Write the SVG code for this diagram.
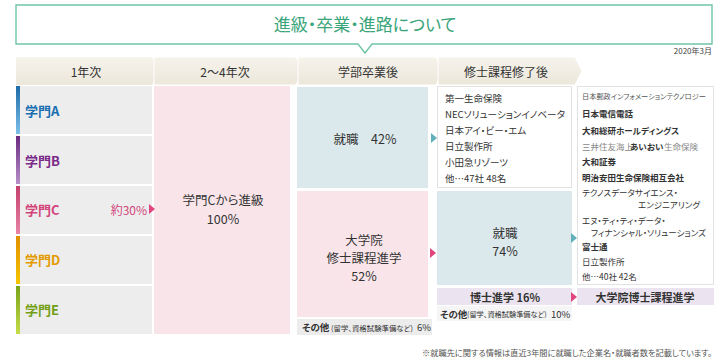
<svg xmlns="http://www.w3.org/2000/svg" width="724" height="360" viewBox="0 0 724 360">
<style>
text{font-family:"Noto Sans CJK JP","Noto Sans",sans-serif;fill:#333;font-feature-settings:"palt"}
.hd{font-size:12px;text-anchor:middle;dominant-baseline:central}
.lb{font-size:13px;font-weight:700;dominant-baseline:central}
.c{text-anchor:middle;dominant-baseline:central}
.m{font-size:12.5px}
.s{font-size:11px;font-weight:700}
.l4{font-size:9.5px;dominant-baseline:central}
.l5{font-size:8.5px;dominant-baseline:central}
.b{font-weight:700}
.pk{fill:#e0457f}
.tl{fill:#62b1ba}
</style>
<defs>
<linearGradient id="hg" x1="0" y1="0" x2="0" y2="1"><stop offset="0" stop-color="#f6f3ec"/><stop offset="1" stop-color="#ece7da"/></linearGradient>
<linearGradient id="gA" x1="0" y1="0" x2="0" y2="1"><stop offset="0" stop-color="#1c6aa8"/><stop offset="1" stop-color="#7dc0ea"/></linearGradient>
<linearGradient id="gB" x1="0" y1="0" x2="0" y2="1"><stop offset="0" stop-color="#6a2a80"/><stop offset="1" stop-color="#b690c8"/></linearGradient>
<linearGradient id="gC" x1="0" y1="0" x2="0" y2="1"><stop offset="0" stop-color="#c43f6c"/><stop offset="1" stop-color="#e884a6"/></linearGradient>
<linearGradient id="gD" x1="0" y1="0" x2="0" y2="1"><stop offset="0" stop-color="#e08e00"/><stop offset="1" stop-color="#f7c600"/></linearGradient>
<linearGradient id="gE" x1="0" y1="0" x2="0" y2="1"><stop offset="0" stop-color="#7aa31a"/><stop offset="1" stop-color="#c4dc48"/></linearGradient>
</defs>
<rect width="724" height="360" fill="#fff"/>

<g id="title">
<path d="M16,5 H712 V44 H372 L365,53 L358,44 H16 Z" fill="#fff" stroke="#72c5a5" stroke-width="1.4"/>
<text x="365" y="23" text-anchor="middle" dominant-baseline="central" style="fill:#3aa57a;font-size:17px">進級・卒業・進路について</text>
<text x="712" y="50" text-anchor="end" dominant-baseline="central" style="fill:#444;font-size:8px">2020年3月</text>
</g>

<g id="headers">
<path d="M16,57 H152 L160,71 L152,85 H16 Z" fill="url(#hg)"/>
<path d="M154,57 H296 L303,71 L296,85 H154 Z" fill="url(#hg)" stroke="#fff" stroke-width="1"/>
<path d="M298,57 H436 L443,71 L436,85 H298 Z" fill="url(#hg)" stroke="#fff" stroke-width="1"/>
<path d="M438,57 H575 L582,71 L575,85 H438 Z" fill="url(#hg)" stroke="#fff" stroke-width="1"/>
<text class="hd" x="86" y="71">1年次</text>
<text class="hd" x="225" y="71">2～4年次</text>
<text class="hd" x="368" y="71">学部卒業後</text>
<text class="hd" x="506" y="71">修士課程修了後</text>
</g>

<g id="gakumonA">
<rect x="16" y="86" width="136" height="48" fill="#ededed"/>
<rect x="16" y="86" width="4" height="48" fill="url(#gA)"/>
<text class="lb" x="25" y="110" style="fill:#1a6fb2">学門A</text>
</g>
<g id="gakumonB">
<rect x="16" y="136" width="136" height="48" fill="#ededed"/>
<rect x="16" y="136" width="4" height="48" fill="url(#gB)"/>
<text class="lb" x="25" y="160" style="fill:#7a2a88">学門B</text>
</g>
<g id="gakumonC">
<rect x="16" y="186" width="136" height="48" fill="#ededed"/>
<rect x="16" y="186" width="4" height="48" fill="url(#gC)"/>
<text class="lb" x="25" y="209" style="fill:#d3457a">学門C</text>
<text x="147" y="209" text-anchor="end" dominant-baseline="central" style="fill:#d3457a;font-size:12px">約30%</text>
</g>
<g id="gakumonD">
<rect x="16" y="236" width="136" height="48" fill="#ededed"/>
<rect x="16" y="236" width="4" height="48" fill="url(#gD)"/>
<text class="lb" x="25" y="259" style="fill:#e39a00">学門D</text>
</g>
<g id="gakumonE">
<rect x="16" y="286" width="136" height="48" fill="#ededed"/>
<rect x="16" y="286" width="4" height="48" fill="url(#gE)"/>
<text class="lb" x="25" y="309" style="fill:#74a018">学門E</text>
</g>

<g id="shinkyu">
<rect x="154" y="86" width="136" height="248" fill="#f9e5e9"/>
<text class="c m" x="223" y="199">学門Cから進級</text>
<text class="c m" x="223" y="218">100%</text>
</g>

<g id="shushoku1">
<rect x="297" y="87" width="131" height="101" fill="#dce9ec"/>
<text class="c m" x="365" y="138">就職　42%</text>
</g>
<g id="shingaku1">
<rect x="297" y="191" width="131" height="126" fill="#f9e5e9"/>
<text class="c m" x="364" y="239">大学院</text>
<text class="c m" x="364" y="257">修士課程進学</text>
<text class="c m" x="364" y="275">52%</text>
</g>
<g id="sonota1">
<rect x="297" y="319" width="135" height="16" fill="#ececec"/>
<text dominant-baseline="central" y="327"><tspan x="302" style="font-size:9.5px;font-weight:700">その他</tspan><tspan x="331" style="font-size:7.4px">(留学、資格試験準備など)</tspan><tspan x="417" style="font-size:9.5px">6%</tspan></text>
</g>

<g id="companies1">
<rect x="437.5" y="86.5" width="134" height="101" fill="#fff" stroke="#e2e2e2"/>
<text class="l4" x="445" y="98">第一生命保険</text>
<text class="l4" x="445" y="114" textLength="120" lengthAdjust="spacingAndGlyphs">NECソリューションイノベータ</text>
<text class="l4" x="445" y="130">日本アイ・ビー・エム</text>
<text class="l4" x="445" y="146">日立製作所</text>
<text class="l4" x="445" y="162">小田急リゾーツ</text>
<text class="l4" x="445" y="178">他…47社 48名</text>
</g>
<g id="shushoku2">
<rect x="437" y="191" width="135" height="94" fill="#dce9ec"/>
<text class="c m" x="505" y="232">就職</text>
<text class="c m" x="505" y="250">74%</text>
</g>
<g id="hakase1">
<rect x="437" y="288" width="135" height="17" fill="#ebe4f0"/>
<text class="c s" x="505" y="297">博士進学  16%</text>
</g>
<g id="sonota2">
<rect x="437" y="306" width="135" height="15" fill="#f5f5f5"/>
<text dominant-baseline="central" y="313.5"><tspan x="440" style="font-size:9.5px;font-weight:700">その他</tspan><tspan x="467" style="font-size:7.2px">(留学、資格試験準備など)</tspan><tspan x="551" style="font-size:9.5px">10%</tspan></text>
</g>

<g id="companies2">
<rect x="577.5" y="86.5" width="136" height="198" fill="#fff" stroke="#e2e2e2"/>
<text class="l5" x="582" y="96" style="fill:#555;font-size:7.2px">日本郵政インフォメーションテクノロジー</text>
<text class="l5 b" x="582" y="113">日本電信電話</text>
<text class="l5 b" x="582" y="130">大和総研ホールディングス</text>
<text class="l5" y="146"><tspan x="582" style="fill:#888">三井住友海上</tspan><tspan x="630" style="font-weight:700">あいおい</tspan><tspan x="664" style="fill:#888">生命保険</tspan></text>
<text class="l5 b" x="582" y="161">大和証券</text>
<text class="l5 b" x="582" y="177">明治安田生命保険相互会社</text>
<text class="l5" x="582" y="192">テクノスデータサイエンス・</text>
<text class="l5" x="638" y="204">エンジニアリング</text>
<text class="l5" x="582" y="220">エヌ・ティ・ティ・データ・</text>
<text class="l5" x="591" y="232">フィナンシャル・ソリューションズ</text>
<text class="l5 b" x="582" y="246">富士通</text>
<text class="l5" x="582" y="261">日立製作所</text>
<text class="l5" x="582" y="276">他…40社 42名</text>
</g>
<g id="hakase2">
<rect x="577" y="288" width="137" height="17" fill="#ebe4f0"/>
<text class="c s" x="645" y="297">大学院博士課程進学</text>
</g>

<g id="connectors">
<polygon class="pk" points="149,204 155,209 149,214"/>
<polygon class="tl" points="431,133 437,138 431,143"/>
<polygon class="pk" points="430,248 436,253 430,258"/>
<polygon class="tl" points="571,233 577,238 571,243"/>
<polygon class="pk" points="571,292 577,297 571,302"/>
</g>

<text x="712" y="352" text-anchor="end" dominant-baseline="central" style="fill:#555;font-size:8.2px">※就職先に関する情報は直近3年間に就職した企業名・就職者数を記載しています。</text>
</svg>
